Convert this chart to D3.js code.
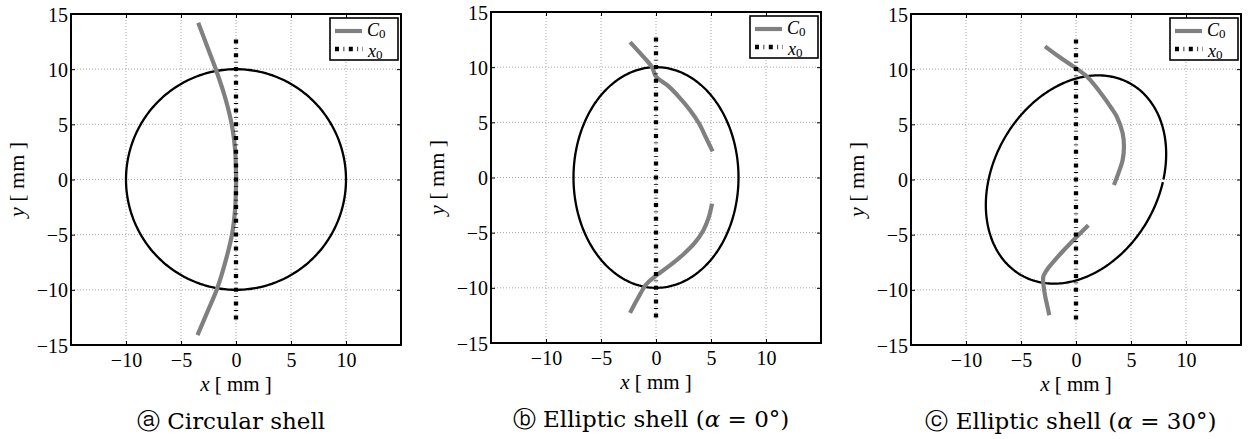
<!DOCTYPE html>
<html>
<head>
<meta charset="utf-8">
<script src="https://cdn.jsdelivr.net/npm/d3@7"></script>
<style>
body { margin: 0; background: #fff; }
</style>
</head>
<body>
<div id="plot"></div>
<script>
// ticks and grid
const xTicks = [-10, -5, 0, 5, 10];
const yTicks = [-15, -10, -5, 0, 5, 10, 15];
const gridValues = [-10, -5, 0, 5, 10];

// shell outline of each panel (semi axes in mm, tilt in degrees)
const shellSemiX = [10, 7.5, 7.5];
const shellSemiY = [10, 10, 10];
const shellAngle = [0, 0, 30];
const shellGap = [0, 0, 0.03];

// captions
const captionMarks = ["ⓐ", "ⓑ", "ⓒ"];
const captionTitles = ["Circular shell", "Elliptic shell", "Elliptic shell"];
const captionAlpha = [null, 0, 30];

// C0 curves, [x, y] in mm
const c0Circle = [[-3.43, 14.2], [-2.6, 12], [-1.82, 9.95], [-0.95, 7.3], [-0.35, 4.8], [-0.08, 2.7], [0, 0.6],
                  [0, -0.6], [-0.08, -2.7], [-0.35, -4.9], [-0.95, -7.4], [-1.72, -9.9], [-2.6, -12], [-3.5, -14.1]];
const c0Ell0Upper = [[-2.36, 12.27], [-1.2, 11], [-0.36, 10], [0, 9.15], [1.1, 8.3], [2.12, 7.27], [3.1, 6.1],
                     [3.94, 4.85], [4.55, 3.6], [5.15, 2.36]];
const c0Ell0Lower = [[5.09, -2.36], [4.8, -3.6], [4.3, -4.8], [3.5, -5.95], [2.5, -6.95], [1.3, -7.95],
                     [0, -8.9], [-0.9, -9.7], [-1.65, -10.95], [-2.36, -12.27]];
const c0Ell30Upper = [[-2.82, 12.07], [-1.5, 11.1], [-0.24, 10.25], [0.97, 9.35], [2.48, 7.53], [3.2, 6.5],
                      [3.7, 5.71], [4.24, 4.2], [4.36, 2.98], [4.24, 1.77], [3.85, 0.56], [3.45, -0.5]];
const c0Ell30Lower = [[1.12, -4.14], [-0.24, -5.5], [-1.2, -6.5], [-2.06, -7.47], [-2.65, -8.2], [-2.97, -8.8],
                      [-2.95, -9.6], [-2.8, -10.6], [-2.6, -11.5], [-2.43, -12.3]];
const c0Branches = [[c0Circle], [c0Ell0Upper, c0Ell0Lower], [c0Ell30Upper, c0Ell30Lower]];

// x0 axis line
const x0Line = [[0, 12.7], [0, -12.7]];

// layout
const panelLeft = [71, 491, 911];
const panelTop = [14, 12, 14];
const plotSize = { w: 330, h: 331 };
const serif = "'Liberation Serif', 'Times New Roman', monospace";
const capFont = "'DejaVu Serif', monospace";

const svg = d3.select("#plot").append("svg")
    .attr("width", 1248)
    .attr("height", 439);

function shellPoints(i) {
    // polar sampling of a tilted ellipse
    const a = shellSemiX[i], b = shellSemiY[i];
    const rot = -shellAngle[i] * Math.PI / 180;
    const end = 2 * Math.PI - shellGap[i];
    const pts = [];
    const n = 360;
    for (let k = 0; k <= n; k++) {
        const phi = end * k / n;
        const p = phi - rot;
        const r = 1 / Math.sqrt(Math.pow(Math.cos(p) / a, 2) + Math.pow(Math.sin(p) / b, 2));
        pts.push([r * Math.cos(phi), r * Math.sin(phi)]);
    }
    return pts;
}

function drawPanel(i) {
    const g = svg.append("g")
        .attr("transform", `translate(${panelLeft[i]},${panelTop[i]})`);

    const xScaler = d3.scaleLinear().domain([-15, 15]).range([0, plotSize.w]);
    const yScaler = d3.scaleLinear().domain([-15, 15]).range([plotSize.h, 0]);

    // grid
    g.append("g").selectAll("line").data(gridValues).join("line")
        .attr("x1", d => xScaler(d)).attr("x2", d => xScaler(d))
        .attr("y1", 0).attr("y2", plotSize.h)
        .attr("stroke", "#a8a8a8").attr("stroke-width", 1).attr("stroke-dasharray", "1,2");
    g.append("g").selectAll("line").data(gridValues).join("line")
        .attr("y1", d => yScaler(d)).attr("y2", d => yScaler(d))
        .attr("x1", 0).attr("x2", plotSize.w)
        .attr("stroke", "#a8a8a8").attr("stroke-width", 1).attr("stroke-dasharray", "1,2");

    const line = d3.line().x(d => xScaler(d[0])).y(d => yScaler(d[1]));

    // shell
    g.append("path")
        .attr("d", line(shellPoints(i)))
        .attr("fill", "none").attr("stroke", "#000").attr("stroke-width", 2.3);

    // C0 curves
    const smooth = d3.line().x(d => xScaler(d[0])).y(d => yScaler(d[1])).curve(d3.curveCatmullRom.alpha(0.5));
    c0Branches[i].forEach(br => {
        g.append("path")
            .attr("d", smooth(br))
            .attr("fill", "none").attr("stroke", "#808080").attr("stroke-width", 4.2);
    });

    // x0
    g.append("path")
        .attr("d", line(x0Line))
        .attr("fill", "none").attr("stroke", "#000").attr("stroke-width", 4.3)
        .attr("stroke-dasharray", "4,4.5,0.8,4.5");

    // axes
    const xAxisGenerator = d3.axisBottom(xScaler).tickValues(xTicks).tickSizeInner(-4).tickSizeOuter(0).tickPadding(8);
    const yAxisGenerator = d3.axisLeft(yScaler).tickValues(yTicks).tickSizeInner(-4).tickSizeOuter(0).tickPadding(3);
    const xa = g.append("g").attr("transform", `translate(0,${plotSize.h})`).call(xAxisGenerator);
    const ya = g.append("g").call(yAxisGenerator);
    const xt = g.append("g").call(d3.axisTop(xScaler).tickValues(xTicks).tickSizeInner(-4).tickSizeOuter(0).tickFormat(""));
    const yr = g.append("g").attr("transform", `translate(${plotSize.w},0)`)
        .call(d3.axisRight(yScaler).tickValues(yTicks).tickSizeInner(-4).tickSizeOuter(0).tickFormat(""));
    [xa, ya, xt, yr].forEach(a => {
        a.select(".domain").remove();
        a.selectAll("line").attr("stroke", "#000").attr("stroke-width", 1);
        a.selectAll("text").style("font-family", serif).style("font-size", "20px").attr("fill", "#000");
    });
    ya.selectAll("text").attr("dy", "0.35em");

    // box
    g.append("rect")
        .attr("width", plotSize.w).attr("height", plotSize.h)
        .attr("fill", "none").attr("stroke", "#000").attr("stroke-width", 2);

    // axis labels
    const xl = g.append("text")
        .attr("x", plotSize.w / 2).attr("y", plotSize.h + 46)
        .attr("text-anchor", "middle")
        .style("font-family", serif).style("font-size", "21px");
    xl.append("tspan").style("font-style", "italic").text("x");
    xl.append("tspan").text(" [ mm ]");

    const yl = g.append("text")
        .attr("transform", `translate(-47,${plotSize.h / 2}) rotate(-90)`)
        .attr("text-anchor", "middle")
        .style("font-family", serif).style("font-size", "22px");
    yl.append("tspan").style("font-style", "italic").text("y");
    yl.append("tspan").text(" [ mm ]");

    // legend
    const lg = g.append("g").attr("transform", `translate(${plotSize.w - 71},4)`);
    lg.append("rect").attr("width", 68).attr("height", 42)
        .attr("fill", "#fff").attr("stroke", "#000").attr("stroke-width", 1.6);
    lg.append("line").attr("x1", 5).attr("x2", 32).attr("y1", 13).attr("y2", 13)
        .attr("stroke", "#808080").attr("stroke-width", 4.2);
    lg.append("line").attr("x1", 5).attr("x2", 33).attr("y1", 31).attr("y2", 31)
        .attr("stroke", "#000").attr("stroke-width", 4.3).attr("stroke-dasharray", "4,4.5,0.8,4.5");
    const t1 = lg.append("text").attr("x", 37).attr("y", 17.5)
        .style("font-family", serif).style("font-size", "18px");
    t1.append("tspan").style("font-style", "italic").text("C");
    t1.append("tspan").style("font-size", "13px").attr("dy", 2).text("0");
    const t2 = lg.append("text").attr("x", 38).attr("y", 38.5)
        .style("font-family", serif).style("font-size", "18px");
    t2.append("tspan").style("font-style", "italic").text("x");
    t2.append("tspan").style("font-size", "13px").attr("dy", 2).text("0");

    // caption
    const cap = g.append("text")
        .attr("x", plotSize.w / 2 - 5).attr("y", plotSize.h + 84)
        .attr("text-anchor", "middle")
        .style("font-family", capFont).style("font-size", "23px");
    cap.append("tspan").text(captionMarks[i] + " ");
    cap.append("tspan").text(captionTitles[i]);
    if (captionAlpha[i] !== null) {
        cap.append("tspan").text(" (");
        cap.append("tspan").style("font-style", "italic").text("α");
        cap.append("tspan").text(" = " + captionAlpha[i] + "°)");
    }
}

for (let i = 0; i < 3; i++) {
    drawPanel(i);
}
</script>
</body>
</html>
